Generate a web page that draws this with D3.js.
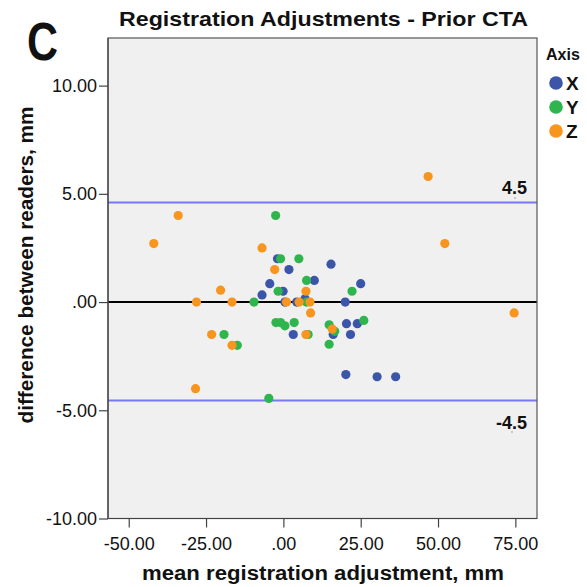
<!DOCTYPE html>
<html>
<head>
<meta charset="utf-8">
<script src="https://cdn.jsdelivr.net/npm/d3@7"></script>
<style>
  html, body { margin: 0; padding: 0; background: #ffffff; }
  svg { display: block; }
  text { font-family: "Liberation Sans", Arial, sans-serif; fill: #111; }
</style>
</head>
<body>
<svg id="chart" width="587" height="587"></svg>
<script>
// ---- data ----
const categories = ["X", "Y", "Z"];
const colors = ["#3b55a8", "#2fb54e", "#f7951f"];

const axisX = [
  [-1.9, 2.0], [15.4, 1.75], [1.8, 1.5], [10.0, 1.0], [25.0, 0.85], [-4.4, 0.85],
  [-0.1, 0.5], [-6.9, 0.33], [0.5, 0.0], [4.3, 0.0], [7.0, 0.15], [20.0, 0.0],
  [3.2, -1.5], [16.1, -1.5], [20.4, -1.0], [23.9, -1.0], [21.7, -1.5],
  [20.2, -3.35], [30.3, -3.45], [36.3, -3.45]
];
const axisY = [
  [-2.5, 4.0], [-0.9, 2.0], [5.0, 2.0], [7.5, 1.0], [22.2, 0.5], [-1.7, 0.5],
  [-9.5, 0.0], [7.5, 0.0], [-2.4, -0.95], [-0.9, -0.95], [0.5, -1.1], [3.5, -0.95],
  [8.0, -1.5], [14.8, -1.05], [16.6, -1.35], [14.8, -1.95], [26.0, -0.85],
  [-4.7, -4.45], [-19.2, -1.5], [-14.9, -2.0]
];
const axisZ = [
  [-34.0, 4.0], [-41.9, 2.7], [-6.9, 2.5], [-20.3, 0.55], [-28.1, 0.0], [-16.6, 0.0],
  [-2.8, 1.5], [7.3, 0.5], [1.0, 0.0], [5.1, 0.0], [8.6, 0.0], [8.8, -0.5],
  [7.3, -1.5], [15.8, -1.25], [46.8, 5.8], [52.2, 2.7], [74.6, -0.5],
  [-23.2, -1.5], [-16.6, -2.0], [-28.4, -4.0]
];
const seriesValues = [axisX, axisY, axisZ];

const xTicks = [-50, -25, 0, 25, 50, 75];
const xTickLabels = ["-50.00", "-25.00", ".00", "25.00", "50.00", "75.00"];
const yTicks = [-10, -5, 0, 5, 10];
const yTickLabels = ["-10.00", "-5.00", ".00", "5.00", "10.00"];

const meanLine = 0;
const upperLimit = 4.6;
const lowerLimit = -4.55;
const upperLabel = "4.5";
const lowerLabel = "-4.5";

const xDomain = [-56.7, 82.0];
const yDomain = [-10, 12.2];

// ---- layout ----
const svg = d3.select("#chart");
const plot = { left: 108, right: 537, top: 38, bottom: 518.5 };

const x = d3.scaleLinear().domain(xDomain).range([plot.left, plot.right]);
const y = d3.scaleLinear().domain(yDomain).range([plot.bottom, plot.top]);

// plot background
svg.append("rect")
  .attr("x", plot.left).attr("y", plot.top)
  .attr("width", plot.right - plot.left).attr("height", plot.bottom - plot.top)
  .attr("fill", "#f0f0f0");

// reference lines
svg.append("line")
  .attr("x1", plot.left).attr("x2", plot.right)
  .attr("y1", y(upperLimit)).attr("y2", y(upperLimit))
  .attr("stroke", "#7878f6").attr("stroke-width", 2);
svg.append("line")
  .attr("x1", plot.left).attr("x2", plot.right)
  .attr("y1", y(lowerLimit)).attr("y2", y(lowerLimit))
  .attr("stroke", "#7878f6").attr("stroke-width", 2);
svg.append("line")
  .attr("x1", plot.left).attr("x2", plot.right)
  .attr("y1", y(meanLine)).attr("y2", y(meanLine))
  .attr("stroke", "#000").attr("stroke-width", 2);

// points
seriesValues.forEach((vals, i) => {
  svg.append("g")
    .selectAll("circle")
    .data(vals)
    .join("circle")
    .attr("cx", d => x(d[0]))
    .attr("cy", d => y(d[1]))
    .attr("r", 4.6)
    .attr("fill", colors[i]);
});

// frame
svg.append("rect")
  .attr("x", plot.left).attr("y", plot.top)
  .attr("width", plot.right - plot.left).attr("height", plot.bottom - plot.top)
  .attr("fill", "none").attr("stroke", "#555").attr("stroke-width", 1.2);

// reference labels
svg.append("text")
  .attr("x", 527).attr("y", 194)
  .attr("text-anchor", "end")
  .attr("font-size", 18).attr("font-weight", "bold")
  .text(upperLabel);
svg.append("text")
  .attr("x", 527).attr("y", 429)
  .attr("text-anchor", "end")
  .attr("font-size", 18).attr("font-weight", "bold")
  .text(lowerLabel);
svg.append("circle").attr("cx", 515).attr("cy", 198).attr("r", 0.8).attr("fill", "#999");
svg.append("circle").attr("cx", 512).attr("cy", 432).attr("r", 0.8).attr("fill", "#999");

// axes
const yAxis = d3.axisLeft(y)
  .tickValues(yTicks)
  .tickFormat((d, i) => yTickLabels[i])
  .tickSize(9).tickPadding(2);
const gy = svg.append("g").attr("transform", `translate(${plot.left},0)`).call(yAxis);

const xAxis = d3.axisBottom(x)
  .tickValues(xTicks)
  .tickFormat((d, i) => xTickLabels[i])
  .tickSize(9).tickPadding(10);
const gx = svg.append("g").attr("transform", `translate(0,${plot.bottom})`).call(xAxis);

[gx, gy].forEach(g => {
  g.select(".domain").attr("stroke", "#444").attr("stroke-width", 1.2);
  g.selectAll(".tick line").attr("stroke", "#444").attr("stroke-width", 1.2);
  g.selectAll(".tick text")
    .attr("font-size", 18)
    .attr("font-family", "Liberation Sans, Arial, sans-serif")
    .attr("fill", "#111");
});
gx.select(".domain").attr("d", `M${plot.left},0H${plot.right}`);
gy.select(".domain").attr("d", `M0,${plot.top}V${plot.bottom}`);

// titles
svg.append("text")
  .attr("x", 323.5).attr("y", 26)
  .attr("text-anchor", "middle")
  .attr("font-size", 21).attr("font-weight", "bold")
  .attr("textLength", 409).attr("lengthAdjust", "spacingAndGlyphs")
  .text("Registration Adjustments - Prior CTA");

svg.append("text")
  .attr("x", 27).attr("y", 60)
  .attr("font-size", 53).attr("font-weight", "bold")
  .attr("textLength", 31).attr("lengthAdjust", "spacingAndGlyphs")
  .text("C");

svg.append("text")
  .attr("x", 323).attr("y", 580)
  .attr("text-anchor", "middle")
  .attr("font-size", 20).attr("font-weight", "bold")
  .attr("textLength", 362).attr("lengthAdjust", "spacingAndGlyphs")
  .text("mean registration adjustment, mm");

svg.append("text")
  .attr("transform", "translate(33,265) rotate(-90)")
  .attr("text-anchor", "middle")
  .attr("font-size", 20).attr("font-weight", "bold")
  .attr("textLength", 317).attr("lengthAdjust", "spacingAndGlyphs")
  .text("difference between readers, mm");

// legend
const legend = svg.append("g");
legend.append("text")
  .attr("x", 546).attr("y", 60)
  .attr("font-size", 16).attr("font-weight", "bold")
  .text("Axis");
categories.forEach((c, i) => {
  const cy = 83 + i * 24;
  legend.append("circle")
    .attr("cx", 556).attr("cy", cy).attr("r", 6.8)
    .attr("fill", colors[i]);
  legend.append("text")
    .attr("x", 566).attr("y", cy + 7)
    .attr("font-size", 19).attr("font-weight", "bold")
    .text(c);
});
</script>
</body>
</html>
